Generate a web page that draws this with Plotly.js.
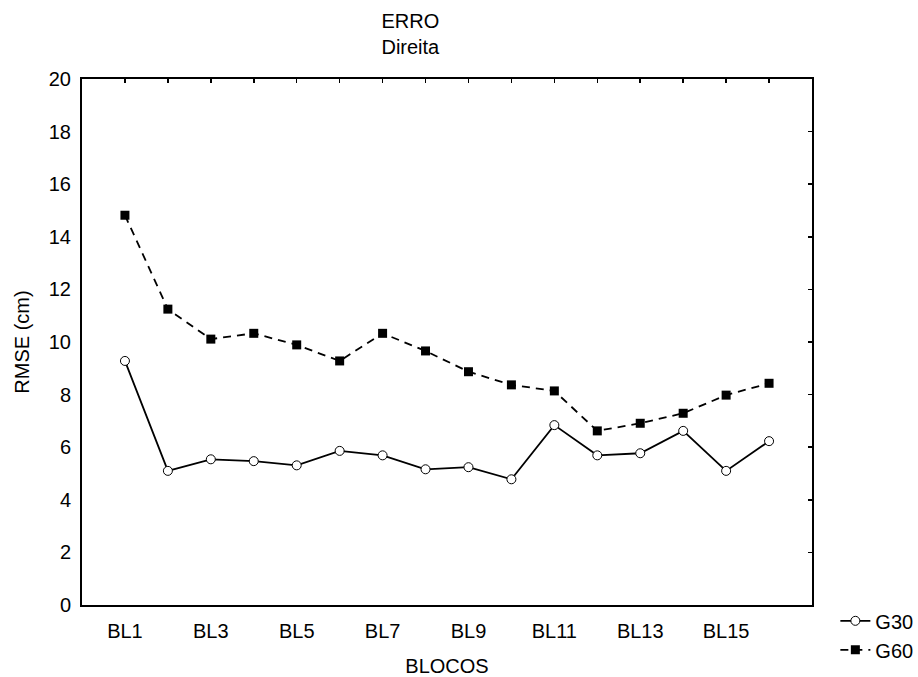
<!DOCTYPE html>
<html>
<head>
<meta charset="utf-8">
<script src="https://cdn.plot.ly/plotly-3.0.1.min.js"></script>
<style>html,body{margin:0;padding:0;background:#fff;}#chart{width:918px;height:677px;}</style>
</head>
<body>
<div id="chart"></div>
<script>
const categories = ["BL1","BL2","BL3","BL4","BL5","BL6","BL7","BL8","BL9","BL10","BL11","BL12","BL13","BL14","BL15","BL16"];
const g30 = [9.28, 5.10, 5.54, 5.47, 5.31, 5.86, 5.69, 5.16, 5.24, 4.78, 6.84, 5.69, 5.77, 6.62, 5.10, 6.23];
const g60 = [14.82, 11.25, 10.11, 10.33, 9.89, 9.28, 10.33, 9.66, 8.87, 8.37, 8.14, 6.62, 6.91, 7.29, 7.98, 8.43];
const xTickLabels = ["BL1","BL3","BL5","BL7","BL9","BL11","BL13","BL15"];
const yTicks = [0,2,4,6,8,10,12,14,16,18,20];

const FONT = "Liberation Sans, Arial, sans-serif";
const FS = 20;
const idx = categories.map((c,i)=>i);

const traces = [
  {
    x: idx, y: g30, name: "G30", type: "scatter", mode: "lines+markers",
    line: {color: "#000", width: 1.8},
    marker: {symbol: "circle", size: 9, color: "#fff", line: {color: "#000", width: 1}}
  },
  {
    x: idx, y: g60, name: "G60", type: "scatter", mode: "lines+markers",
    line: {color: "#000", width: 1.8, dash: "8px,6px"},
    marker: {symbol: "square", size: 9, color: "#000", line: {color: "#000", width: 0}}
  },
  {
    // invisible helper so the top/right tick axes are drawn
    x: idx, y: g30, xaxis: "x2", yaxis: "y2", type: "scatter", mode: "markers",
    marker: {opacity: 0, size: 1}, showlegend: false, hoverinfo: "skip"
  }
];

const layout = {
  width: 918, height: 677,
  paper_bgcolor: "#fff", plot_bgcolor: "#fff",
  margin: {l: 82, r: 106, t: 79, b: 72, autoexpand: false},
  font: {family: FONT, size: FS, color: "#000"},
  title: {
    text: "ERRO<br>Direita",
    font: {family: FONT, size: FS, color: "#000"},
    xref: "container", x: 0.447, xanchor: "center",
    yref: "container", y: 0.959, yanchor: "top"
  },
  showlegend: true,
  legend: {
    x: 1.032, xanchor: "left", y: 0.007, yanchor: "top",
    font: {family: FONT, size: FS, color: "#000"},
    bgcolor: "rgba(0,0,0,0)", borderwidth: 0, tracegroupgap: 0
  },
  xaxis: {
    range: [-1, categories.length], showgrid: false, zeroline: false,
    showline: true, linecolor: "#000", linewidth: 2, mirror: true,
    ticks: "", tickvals: xTickLabels.map(l => categories.indexOf(l)), ticktext: xTickLabels,
    ticklabelstandoff: 7,
    tickfont: {family: FONT, size: FS, color: "#000"},
    title: {text: "BLOCOS", font: {family: FONT, size: FS, color: "#000"}, standoff: 33},
    automargin: false
  },
  yaxis: {
    range: [0, 20], showgrid: false, zeroline: false,
    showline: true, linecolor: "#000", linewidth: 2, mirror: true,
    ticks: "", tickvals: yTicks, ticktext: yTicks.map(String),
    ticklabelstandoff: 5,
    tickfont: {family: FONT, size: FS, color: "#000"},
    title: {text: "RMSE (cm)", font: {family: FONT, size: FS, color: "#000"}, standoff: 14},
    automargin: false
  },
  xaxis2: {
    overlaying: "x", side: "top", anchor: "y2", automargin: false,
    range: [-1, categories.length], showgrid: false, zeroline: false, showline: false,
    ticks: "inside", ticklen: 4, tickwidth: 1.5, tickcolor: "#000",
    tickvals: idx, showticklabels: false
  },
  yaxis2: {
    overlaying: "y", side: "right", anchor: "x2", automargin: false,
    range: [0, 20], showgrid: false, zeroline: false, showline: false,
    ticks: "inside", ticklen: 4, tickwidth: 1.5, tickcolor: "#000",
    tickvals: yTicks, showticklabels: false
  }
};

Plotly.newPlot("chart", traces, layout, {displayModeBar: false, staticPlot: true});
</script>
</body>
</html>
